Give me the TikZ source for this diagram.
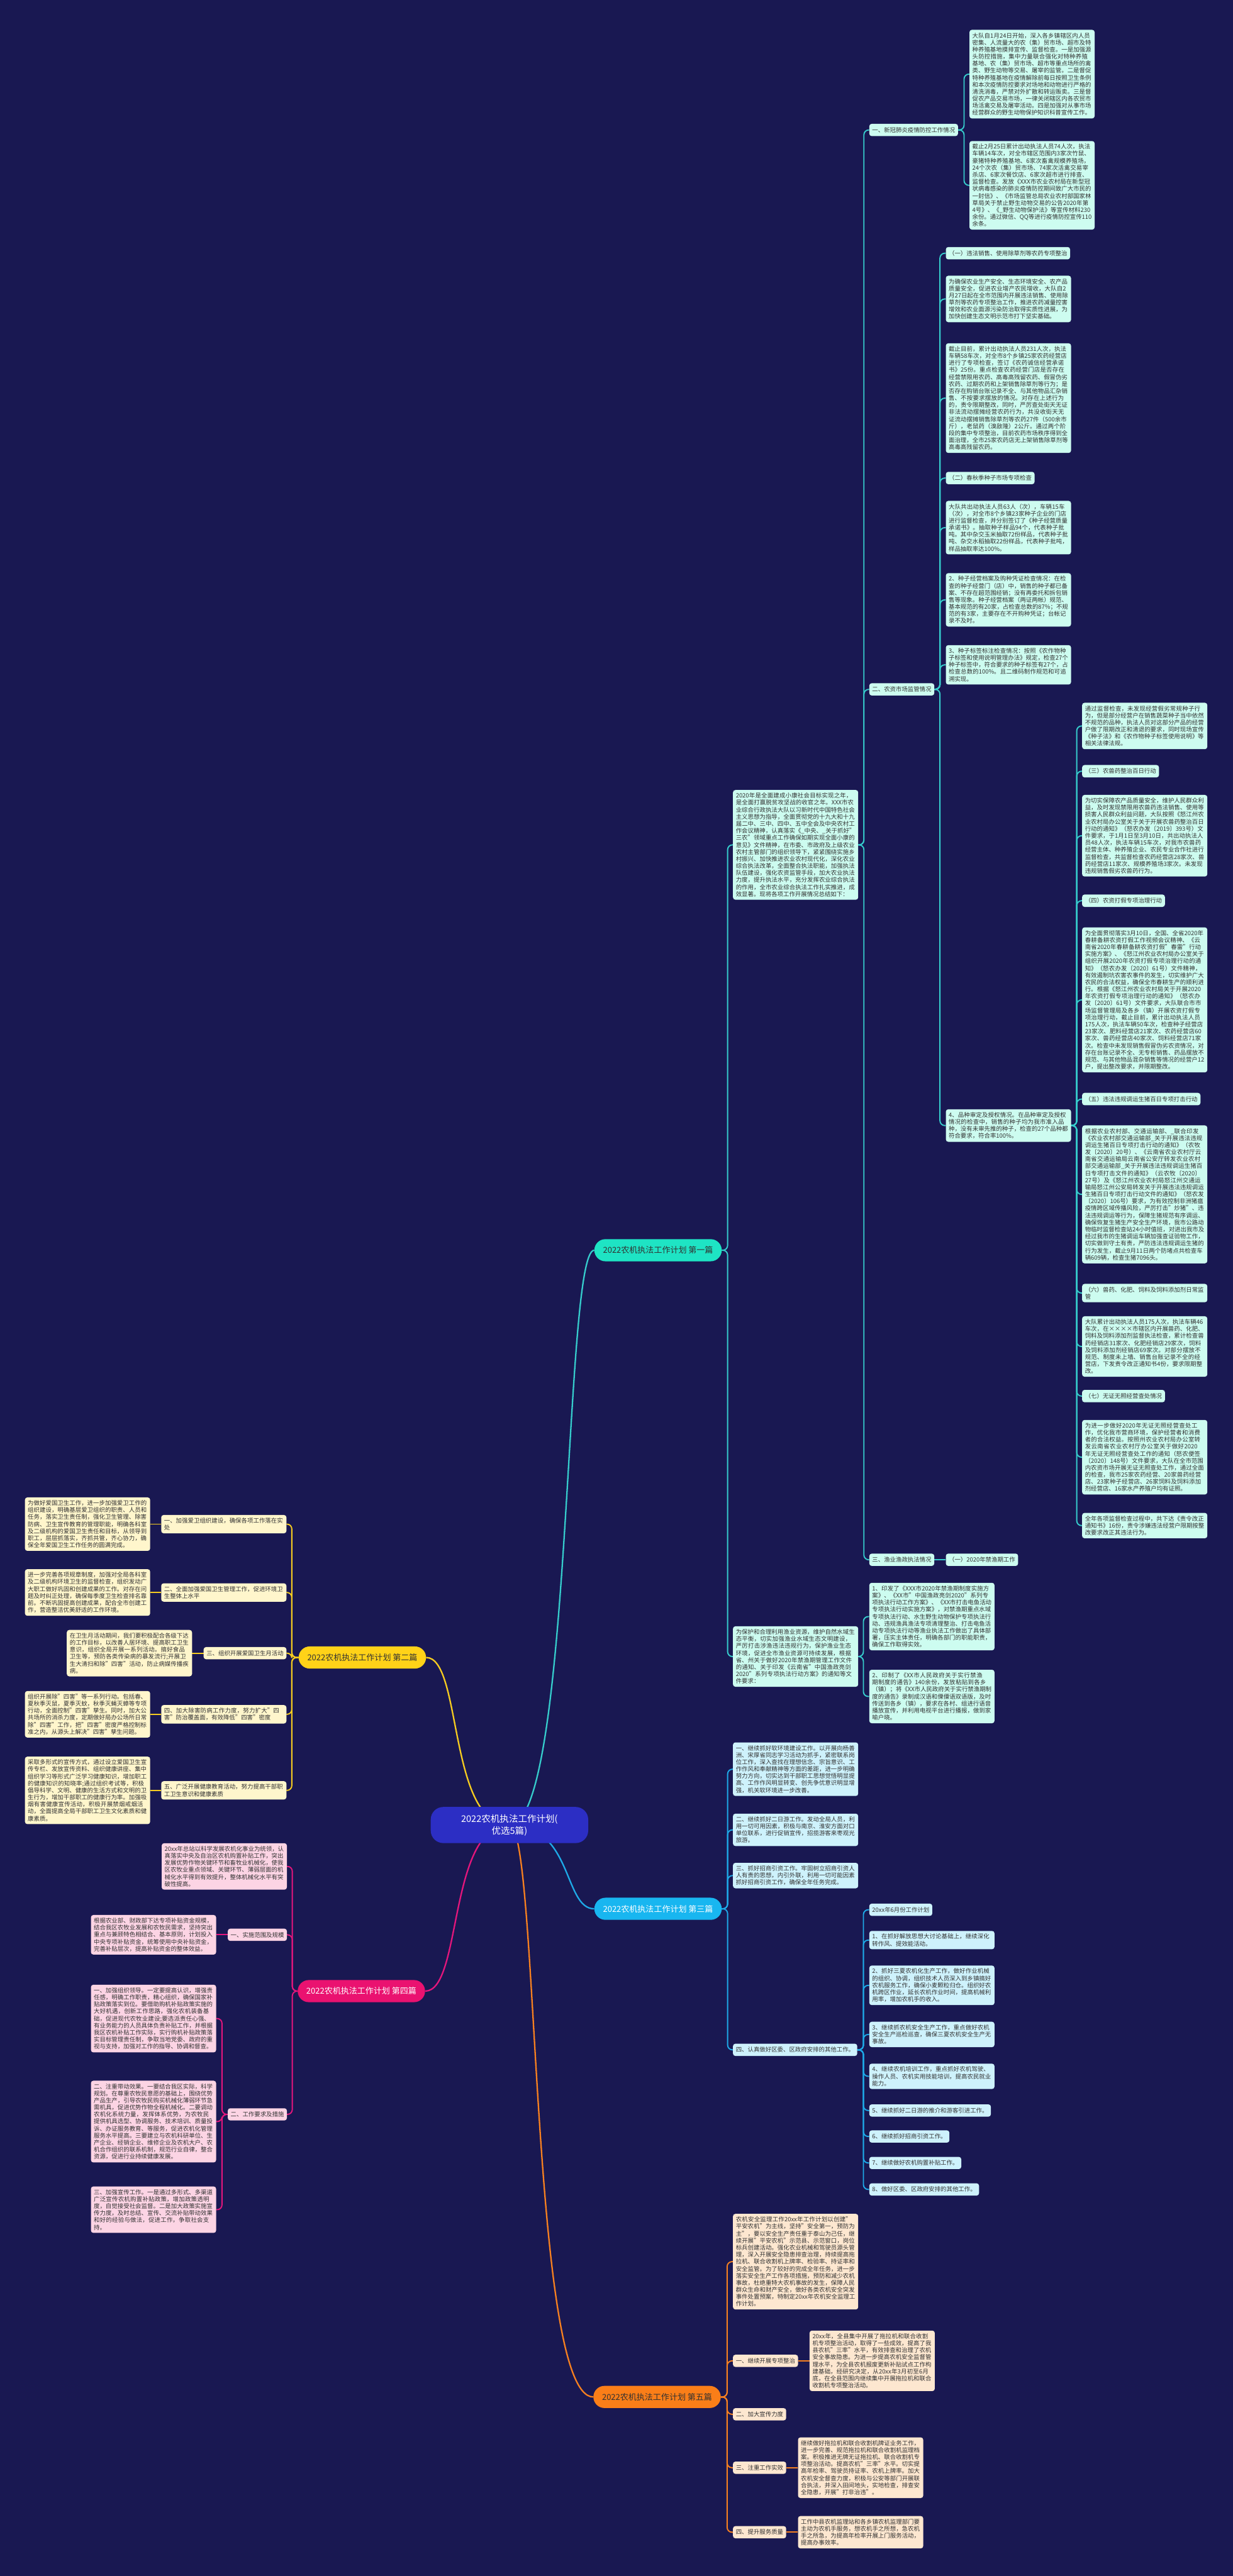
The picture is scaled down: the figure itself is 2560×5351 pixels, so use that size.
\documentclass[tikz,border=0pt]{standalone}
\usepackage{fontspec}
\setmainfont{Noto Sans CJK SC}
\XeTeXlinebreaklocale "zh"
\XeTeXlinebreakskip = 0pt plus 1pt
\usetikzlibrary{backgrounds}

\definecolor{bgnavy}{RGB}{25,24,82}
\definecolor{inkgray}{RGB}{50,50,50}
\definecolor{rootblue}{RGB}{44,46,196}
\definecolor{tealink}{RGB}{54,204,204}
\definecolor{tealpaper}{RGB}{205,252,240}
\definecolor{tealhead}{RGB}{30,228,196}
\definecolor{blueink}{RGB}{30,170,232}
\definecolor{bluepaper}{RGB}{206,242,252}
\definecolor{bluehead}{RGB}{24,182,240}
\definecolor{goldink}{RGB}{246,204,32}
\definecolor{goldpaper}{RGB}{255,246,204}
\definecolor{goldhead}{RGB}{255,210,24}
\definecolor{pinkink}{RGB}{228,22,124}
\definecolor{pinkpaper}{RGB}{252,212,228}
\definecolor{pinkhead}{RGB}{234,18,112}
\definecolor{orangeink}{RGB}{246,128,32}
\definecolor{orangepaper}{RGB}{253,231,208}
\definecolor{orangehead}{RGB}{250,126,24}

\tikzset{leaf/.style = {rectangle, rounded corners=5pt, inner xsep=6pt, inner ysep=6pt, text width=248pt, align=left, text=inkgray, font=\fontsize{12.3}{14.6}\selectfont}}
\tikzset{tag/.style = {rectangle, rounded corners=5pt, inner xsep=6pt, inner ysep=7pt, text=inkgray, font=\fontsize{12.3}{14.6}\selectfont}}
\tikzset{branch/.style = {rectangle, rounded corners=23pt, minimum height=46pt, inner xsep=18pt, font=\fontsize{17}{20}\selectfont}}
\tikzset{rootbox/.style = {rectangle, rounded corners=26pt, fill=rootblue, text=white, minimum width=327pt, minimum height=75pt, align=center, font=\fontsize{19}{25}\selectfont}}
\tikzset{tealbox/.style = {leaf, fill=tealpaper}, tealtag/.style = {tag, fill=tealpaper}}
\tikzset{bluebox/.style = {leaf, fill=bluepaper}, bluetag/.style = {tag, fill=bluepaper}}
\tikzset{goldbox/.style = {leaf, fill=goldpaper}, goldtag/.style = {tag, fill=goldpaper}}
\tikzset{pinkbox/.style = {leaf, fill=pinkpaper}, pinktag/.style = {tag, fill=pinkpaper}}
\tikzset{orangebox/.style = {leaf, fill=orangepaper}, orangetag/.style = {tag, fill=orangepaper}}
\tikzset{tealarm/.style = {draw=tealink, line width=2.5pt, rounded corners=10pt}}
\tikzset{bluearm/.style = {draw=blueink, line width=2.5pt, rounded corners=10pt}}
\tikzset{goldarm/.style = {draw=goldink, line width=2.5pt, rounded corners=10pt}}
\tikzset{pinkarm/.style = {draw=pinkink, line width=2.5pt, rounded corners=10pt}}
\tikzset{orangearm/.style = {draw=orangeink, line width=2.5pt, rounded corners=10pt}}

\begin{document}
\begin{tikzpicture}[x=1pt, y=-1pt]
	\useasboundingbox (0,0) rectangle (2560,5351);

	% centre
	\node (root) [rootbox] at (1058,3791) {2022农机执法工作计划(\\优选5篇)};

	% first part
	\node (b1) [branch, fill=tealhead, text=inkgray, anchor=east] at (1499,2597) {2022农机执法工作计划 第一篇};
	\node (intro) [tealbox, anchor=west] at (1522,1755) {2020年是全面建成小康社会目标实现之年，是全面打赢脱贫攻坚战的收官之年。XXX市农业综合行政执法大队以习新时代中国特色社会主义思想为指导，全面贯彻党的十九大和十九届二中、三中、四中、五中全会及中央农村工作会议精神，认真落实《\_中央、\_关于抓好"三农"领域重点工作确保如期实现全面小康的意见》文件精神，在市委、市政府及上级农业农村主管部门的组织领导下，紧紧围绕实施乡村振兴、加快推进农业农村现代化，深化农业综合执法改革，全面整合执法职能，加强执法队伍建设，强化农资监管手段，加大农业执法力度，提升执法水平，充分发挥农业综合执法的作用，全市农业综合执法工作扎实推进，成效显著。现将各项工作开展情况总结如下：};
	\node (s1) [tealtag, anchor=west] at (1805,270) {一、新冠肺炎疫情防控工作情况};
	\node (a1) [tealbox, anchor=west] at (2013,154) {大队自1月24日开始，深入各乡镇辖区内人员密集、人流量大的农（集）贸市场、超市及特种养殖基地摸排宣传、监督检查。一是加强源头防控措施，集中力量联合强化对特种养殖基地、农（集）贸市场、超市等重点场所的禽类、野生动物等交易、屠宰的监管。二是督促特种养殖基地在疫情解除前每日按照卫生条例和本次疫情防控要求对场地和动物进行严格的清洗消毒，严禁对外扩散和转运贩卖。三是督促农产品交易市场，一律关闭辖区内各农贸市场活禽交易及屠宰活动。四是加强对从事市场经营群众的野生动物保护知识科普宣传工作。};
	\node (a2) [tealbox, anchor=west] at (2013,385) {截止2月25日累计出动执法人员74人次，执法车辆14车次，对全市辖区范围内3家次竹鼠、豪猪特种养殖基地、6家次畜禽规模养殖场，24个次农（集）贸市场、74家次活禽交易宰杀店、6家次餐饮店、6家次超市进行排查、监督检查。发放《XXX市农业农村局在新型冠状病毒感染的肺炎疫情防控期间致广大市民的一封信》、《市场监管总局农业农村部国家林草局关于禁止野生动物交易的公告2020年第4号》、《\_野生动物保护法》等宣传材料230余份。通过微信、QQ等进行疫情防控宣传110余条。};
	\node (s2) [tealtag, anchor=west] at (1805,1432) {二、农资市场监管情况};
	\node (t1) [tealtag, anchor=west] at (1964,526) {（一）违法销售、使用除草剂等农药专项整治};
	\node (p1) [tealbox, anchor=west] at (1964,621) {为确保农业生产安全、生态环境安全、农产品质量安全，促进农业增产农民增收，大队自2月27日起在全市范围内开展违法销售、使用除草剂等农药专项整治工作，推进农药减量控害增效和农业面源污染防治取得实质性进展，为加快创建生态文明示范市打下坚实基础。};
	\node (p2) [tealbox, anchor=west] at (1964,827) {截止目前，累计出动执法人员231人次，执法车辆58车次，对全市8个乡镇25家农药经营店进行了专项检查，签订《农药诚信经营承诺书》25份。重点检查农药经营门店是否存在经营禁限用农药、高毒高残留农药、假冒伪劣农药、过期农药和上架销售除草剂等行为；是否存在购销台账记录不全、与其他物品汇杂销售、不按要求摆放的情况。对存在上述行为的，责令限期整改，同时，严厉查处街天无证非法流动摆摊经营农药行为，共没收街天无证流动摆摊销售除草剂等农药27件（500余市斤），老鼠药（溴敌隆）2公斤。通过两个阶段的集中专项整治，目前农药市场秩序得到全面治理，全市25家农药店无上架销售除草剂等高毒高残留农药。};
	\node (t2) [tealtag, anchor=west] at (1964,993) {（二）春秋季种子市场专项检查};
	\node (p3) [tealbox, anchor=west] at (1964,1096) {大队共出动执法人员63人（次），车辆15车（次），对全市8个乡镇23家种子企业的门店进行监督检查，并分别签订了《种子经营质量承诺书》。抽取种子样品94个，代表种子批吨。其中杂交玉米抽取72份样品，代表种子批吨、杂交水稻抽取22份样品，代表种子批吨，样品抽取率达100\%。};
	\node (p4) [tealbox, anchor=west] at (1964,1246) {2、种子经营档案及购种凭证检查情况：在检查的种子经营门（店）中，销售的种子都已备案、不存在超范围经销；没有再委托和拆包销售等现象。种子经营档案（两证两帐）规范、基本规范的有20家，占检查总数的87\%；不规范的有3家，主要存在不开购种凭证；台帐记录不及时。};
	\node (p5) [tealbox, anchor=west] at (1964,1381) {3、种子标签标注检查情况：按照《农作物种子标签和使用说明管理办法》规定，检查27个种子标签中，符合要求的种子标签有27个，占检查总数的100\%。且二维码制作规范和可追溯实现。};
	\node (p6) [tealbox, anchor=west] at (1964,2338) {4、品种审定及授权情况。在品种审定及授权情况的检查中，销售的种子均为我市准入品种，没有未审先推的种子，检查的27个品种都符合要求，符合率100\%。};
	\node (q1) [tealbox, anchor=west] at (2247,1508) {通过监督检查，未发现经营假劣常规种子行为，但是部分经营户在销售蔬菜种子当中依然不规范的品种，执法人员对这部分产品的经营户做了限期改正和清退的要求，同时现场宣传《种子法》和《农作物种子标签使用说明》等相关法律法规。};
	\node (t3) [tealtag, anchor=west] at (2247,1602) {（三）农兽药整治百日行动};
	\node (q2) [tealbox, anchor=west] at (2247,1736) {为切实保障农产品质量安全，维护人民群众利益，及时发现禁限用农兽药违法销售、使用等损害人民群众利益问题，大队按照《怒江州农业农村局办公室关于关于开展农兽药整治百日行动的通知》（怒农办发〔2019〕393号）文件要求，于1月1日至3月10日，共出动执法人员48人次，执法车辆15车次，对我市农兽药经营主体、种养殖企业、农民专业合作社进行监督检查，共监督检查农药经营店28家次、兽药经营店11家次、规模养殖场3家次。未发现违规销售假劣农兽药行为。};
	\node (t4) [tealtag, anchor=west] at (2247,1871) {（四）农资打假专项治理行动};
	\node (q3) [tealbox, anchor=west] at (2247,2077) {为全面贯彻落实3月10日，全国、全省2020年春耕备耕农资打假工作视频会议精神、《云南省2020年春耕备耕农资打假"春雷"行动实施方案》、《怒江州农业农村局办公室关于组织开展2020年农资打假专项治理行动的通知》（怒农办发〔2020〕61号）文件精神，有效遏制坑农害农事件的发生，切实维护广大农民的合法权益，确保全市春耕生产的顺利进行。根据《怒江州农业农村局关于开展2020年农资打假专项治理行动的通知》（怒农办发〔2020〕61号）文件要求，大队联合市市场监督管理局及各乡（镇）开展农资打假专项治理行动，截止目前，累计出动执法人员175人次，执法车辆50车次，检查种子经营店23家次、肥料经营店21家次、农药经营店60家次、兽药经营店40家次、饲料经营店71家次。检查中未发现销售假冒伪劣农资情况，对存在台账记录不全、无专柜销售、药品摆放不规范、与其他物品混杂销售等情况的经营户12户，提出整改要求，并限期整改。};
	\node (t5) [tealtag, anchor=west] at (2247,2283) {（五）违法违规调运生猪百日专项打击行动};
	\node (q4) [tealbox, anchor=west] at (2247,2481) {根据农业农村部、交通运输部、\_联合印发《农业农村部交通运输部\_关于开展违法违规调运生猪百日专项打击行动的通知》（农牧发〔2020〕20号）、《云南省农业农村厅云南省交通运输局云南省公安厅转发农业农村部交通运输部\_关于开展违法违规调运生猪百日专项打击文件的通知》（云农牧〔2020〕27号）及《怒江州农业农村局怒江州交通运输局怒江州公安局转发关于开展违法违规调运生猪百日专项打击行动文件的通知》（怒农发〔2020〕106号）要求，为有效控制非洲猪瘟疫情跨区域传播风险，严厉打击"炒猪"、违法违规调运等行为，保障生猪规范有序调运、确保恢复生猪生产安全生产环境，我市公路动物临时监督检查站24小时值班，对进出我市及经过我市的生猪调运车辆加强查证验物工作，切实做到守土有责，严防违法违规调运生猪的行为发生，截止9月11日两个防堵点共检查车辆609辆，检查生猪7096头。};
	\node (t6) [tealbox, anchor=west] at (2247,2686) {（六）兽药、化肥、饲料及饲料添加剂日常监管};
	\node (q5) [tealbox, anchor=west] at (2247,2797) {大队累计出动执法人员175人次，执法车辆46车次，在××××市辖区内开展兽药、化肥、饲料及饲料添加剂监督执法检查，累计检查兽药经销店31家次、化肥经销店29家次，饲料及饲料添加剂经销店69家次。对部分摆放不规范、制度未上墙、销售台账记录不全的经营店，下发责令改正通知书4份，要求限期整改。};
	\node (t7) [tealtag, anchor=west] at (2247,2900) {（七）无证无照经营查处情况};
	\node (q6) [tealbox, anchor=west] at (2247,3027) {为进一步做好2020年无证无照经营查处工作，优化我市营商环境，保护经营者和消费者的合法权益。按照州农业农村局办公室转发云南省农业农村厅办公室关于做好2020年无证无照经营查处工作的通知（怒农便签〔2020〕148号）文件要求，大队在全市范围内农资市场开展无证无照查处工作，通过全面的检查，我市25家农药经营、20家兽药经营店、23家种子经营店、26家饲料及饲料添加剂经营店、16家水产养殖户均有证照。};
	\node (q7) [tealbox, anchor=west] at (2247,3169) {全年各项监督检查过程中，共下达《责令改正通知书》16份，责令涉嫌违法经营户限期按整改要求改正其违法行为。};
	\node (s3) [tealtag, anchor=west] at (1805,3240) {三、渔业渔政执法情况};
	\node (t8) [tealtag, anchor=west] at (1964,3240) {（一）2020年禁渔期工作};
	\node (fish) [tealbox, anchor=west] at (1522,3441) {为保护和合理利用渔业资源，维护自然水域生态平衡，切实加强渔业水域生态文明建设，严厉打击涉渔违法违规行为，保护渔业生态环境，促进全市渔业资源可持续发展，根据省、州关于做好2020年禁渔期管理工作文件的通知、关于印发《云南省"中国渔政亮剑2020"系列专项执法行动方案》的通知等文件要求：};
	\node (d1) [tealbox, anchor=west] at (1805,3358) {1、印发了《XXX市2020年禁渔期制度实施方案》、《XX市"中国渔政亮剑2020"系列专项执法行动工作方案》、《XX市打击电鱼活动专项执法行动实施方案》，对禁渔期重点水域专项执法行动、水生野生动物保护专项执法行动、违规渔具渔法专项清理整治、打击电鱼活动专项执法行动等渔业执法工作做出了具体部署，压实主体责任，明确各部门的职能职责，确保工作取得实效。};
	\node (d2) [tealbox, anchor=west] at (1805,3524) {2、印制了《XX市人民政府关于实行禁渔期制度的通告》140余份，发放粘贴到各乡（镇）；将《XX市人民政府关于实行禁渔期制度的通告》录制成汉语和傈僳语双语版，及时传送到各乡（镇），要求在各村、组进行语音播放宣传，并利用电视平台进行播报，做到家喻户晓。};

	% second part
	\node (b2) [branch, fill=goldhead, text=inkgray, anchor=west] at (620,3443) {2022农机执法工作计划 第二篇};
	\node (y1) [goldbox, anchor=east] at (595,3166) {一、加强爱卫组织建设，确保各项工作落在实处};
	\node (l1) [goldbox, anchor=east] at (312,3166) {为做好爱国卫生工作，进一步加强爱卫工作的组织建设，明确基层爱卫组织的职责、人员和任务，落实卫生责任制，强化卫生管理、除害防病、卫生宣传教育的管理职能，明确各科室及二级机构的爱国卫生责任和目标，从领导到职工，层层抓落实，齐抓共管，齐心协力，确保全年爱国卫生工作任务的圆满完成。};
	\node (y2) [goldbox, anchor=east] at (595,3308) {二、全面加强爱国卫生管理工作，促进环境卫生整体上水平};
	\node (l2) [goldbox, anchor=east] at (312,3308) {进一步完善各项规章制度，加强对全局各科室及二级机构环境卫生的监督检查，组织发动广大职工做好巩固和创建成果的工作。对存在问题及时纠正处理，确保每季度卫生检查排名靠前。不断巩固提高创建成果，配合全市创建工作，营造整洁优美舒适的工作环境。};
	\node (y3) [goldtag, anchor=east] at (595,3434) {三、组织开展爱国卫生月活动};
	\node (l3) [goldbox, anchor=east] at (399,3434) {在卫生月活动期间，我们要积极配合各级下达的工作目标，以改善人居环境、提高职工卫生意识，组织全局开展一系列活动。搞好食品卫生等，预防各类传染病的暴发流行;开展卫生大清扫和除"四害"活动，防止病媒传播疾病。};
	\node (y4) [goldbox, anchor=east] at (595,3561) {四、加大除害防病工作力度，努力扩大"四害"防治覆盖面，有效降低"四害"密度};
	\node (l4) [goldbox, anchor=east] at (312,3561) {组织开展除"四害"等一系列行动。包括春、夏秋季灭鼠，夏季灭蚊，秋季灭蝇灭蟑等专项行动，全面控制"四害"孳生。同时，加大公共场所的消杀力度，定期做好局办公场所日常除"四害"工作，把"四害"密度严格控制标准之内，从源头上解决"四害"孳生问题。};
	\node (y5) [goldbox, anchor=east] at (595,3719) {五、广泛开展健康教育活动，努力提高干部职工卫生意识和健康素质};
	\node (l5) [goldbox, anchor=east] at (312,3719) {采取多形式的宣传方式，通过设立爱国卫生宣传专栏、发放宣传资料、组织健康讲座、集中组织学习等形式广泛学习健康知识，增加职工的健康知识的知晓率;通过组织考试等，积极倡导科学、文明、健康的生活方式和文明的卫生行为，增加干部职工的健康行为率。加强吸烟有害健康宣传活动，积极开展禁烟戒烟活动，全面提高全局干部职工卫生文化素质和健康素质。};

	% third part
	\node (b3) [branch, fill=bluehead, text=white, anchor=east] at (1499,3965) {2022农机执法工作计划 第三篇};
	\node (e1) [bluebox, anchor=west] at (1522,3675) {一、继续抓好软环境建设工作。以开展向杨善洲、宋厚省同志学习活动为抓手，紧密联系岗位工作，深入查找在理想信念、宗旨意识、工作作风和奉献精神等方面的差距，进一步明确努力方向，切实达到干部职工思想觉悟明显提高、工作作风明显转变、创先争优意识明显增强，机关软环境进一步改善。};
	\node (e2) [bluebox, anchor=west] at (1522,3801) {二、继续抓好二日游工作。发动全局人员，利用一切可用因素，积极与南京、淮安方面对口单位联系，进行促销宣传，招揽游客来枣观光旅游。};
	\node (e3) [bluebox, anchor=west] at (1522,3896) {三、抓好招商引资工作。牢固树立招商引资人人有责的思想，内引外联，利用一切可能因素抓好招商引资工作，确保全年任务完成。};
	\node (e4) [bluetag, anchor=west] at (1522,4258) {四、认真做好区委、区政府安排的其他工作。};
	\node (f0) [bluetag, anchor=west] at (1805,3967) {20xx年6月份工作计划};
	\node (f1) [bluebox, anchor=west] at (1805,4030) {1、在抓好解放思想大讨论基础上，继续深化转作风、提效能活动。};
	\node (f2) [bluebox, anchor=west] at (1805,4124) {2、抓好三夏农机化生产工作，做好作业机械的组织、协调，组织技术人员深入到乡镇搞好农机服务工作，确保小麦颗粒归仓。组织好农机跨区作业，延长农机作业时间，提高机械利用率，增加农机手的收入。};
	\node (f3) [bluebox, anchor=west] at (1805,4226) {3、继续抓农机安全生产工作，重点做好农机安全生产巡检巡查，确保三夏农机安全生产无事故。};
	\node (f4) [bluebox, anchor=west] at (1805,4313) {4、继续农机培训工作，重点抓好农机驾驶、操作人员、农机实用技能培训，提高农民就业能力。};
	\node (f5) [bluetag, anchor=west] at (1805,4384) {5、继续抓好二日游的推介和游客引进工作。};
	\node (f6) [bluetag, anchor=west] at (1805,4438) {6、继续抓好招商引资工作。};
	\node (f7) [bluetag, anchor=west] at (1805,4493) {7、继续做好农机购置补贴工作。};
	\node (f8) [bluetag, anchor=west] at (1805,4548) {8、做好区委、区政府安排的其他工作。};

	% fourth part
	\node (b4) [branch, fill=pinkhead, text=white, anchor=west] at (618,4136) {2022农机执法工作计划 第四篇};
	\node (h0) [pinkbox, anchor=east] at (596,3877) {20xx年总站以科学发展农机化事业为统领，认真落实中央及自治区农机购置补贴工作，突出发展优势作物关键环节和畜牧业机械化，使我区农牧业重点领域、关键环节、薄弱层面的机械化水平得到有效提升，整体机械化水平有突破性提高。};
	\node (k1) [pinktag, anchor=east] at (596,4019) {一、实施范围及规模};
	\node (h1) [pinkbox, anchor=east] at (449,4019) {根据农业部、财政部下达专项补贴资金规模，结合我区农牧业发展和农牧民需求，坚持突出重点与兼顾特色相结合、基本原则，计划投入中央专项补贴资金，统筹使用中央补贴资金，完善补贴层次，提高补贴资金的整体效益。};
	\node (k2) [pinktag, anchor=east] at (596,4392) {二、工作要求及措施};
	\node (h2) [pinkbox, anchor=east] at (449,4193) {一、加强组织领导。一定要提高认识，增强责任感，明确工作职责，精心组织，确保国家补贴政策落实到位。要借助购机补贴政策实施的大好机遇，创新工作思路，强化农机装备基础，促进现代农牧业建设;要选派责任心强、有业务能力的人员具体负责补贴工作，并根据我区农机补贴工作实际，实行购机补贴政策落实目标管理责任制，争取当地党委、政府的重视与支持，加强对工作的指导、协调和督查。};
	\node (h3) [pinkbox, anchor=east] at (449,4407) {二、注重带动效果。一要结合我区实际，科学规划。在尊重农牧民意愿的基础上，围绕优势产品生产，引导农牧民购买机械化薄弱环节急需机具，促进优势作物全程机械化。二要调动农机化系统力量，发挥体系优势，为农牧民提供机具选型、协调服务、技术培训、质量投诉、办证服务教育、等服务，促进农机化管理服务水平提高。三要建立与农机科研单位、生产企业、经销企业、维修企业及农机大户、农机合作组织的联系机制，规范行业自律，整合资源，促进行业持续健康发展。};
	\node (h4) [pinkbox, anchor=east] at (449,4590) {三、加强宣传工作。一是通过多形式、多渠道广泛宣传农机购置补贴政策，增加政策透明度，自觉接受社会监督。二是加大政策实施宣传力度，及时总结、宣传、交流补贴带动效果和好的经验与做法，促进工作，争取社会支持。};

	% fifth part
	\node (b5) [branch, fill=orangehead, text=inkgray, anchor=east] at (1497,4979) {2022农机执法工作计划 第五篇};
	\node (g0) [orangebox, anchor=west] at (1522,4698) {农机安全监理工作20xx年工作计划以创建"平安农机"为主线，坚持"安全第一，预防为主"，要以安全生产责任重于泰山为己任，继续开展"平安农机"示范县、示范窗口，岗位标兵创建活动。强化农业机械和驾驶员源头管理，深入开展安全隐患排查治理，持续提高拖拉机、联合收割机上牌率、检验率、持证率和安全监管。为了较好的完成全年任务，进一步落实安全生产工作各项措施，预防和减少农机事故，杜绝重特大农机事故的发生，保障人民群众生命和财产安全，做好各类农机安全突发事件处置预案，特制定20xx年农机安全监理工作计划。};
	\node (o1) [orangetag, anchor=west] at (1522,4904) {一、继续开展专项整治};
	\node (g1) [orangebox, anchor=west] at (1681,4904) {20xx年，全县集中开展了拖拉机和联合收割机专项整治活动，取得了一些成效，提高了我县农机"三率"水平，有效排查和治理了农机安全事故隐患。为进一步提高农机安全监督管理水平，为全县农机报废更新补贴试点工作构建基础，经研究决定，从20xx年3月初至6月底，在全县范围内继续集中开展拖拉机和联合收割机专项整治活动。};
	\node (o2) [orangetag, anchor=west] at (1522,5015) {二、加大宣传力度};
	\node (o3) [orangetag, anchor=west] at (1522,5126) {三、注重工作实效};
	\node (g3) [orangebox, anchor=west] at (1657,5126) {继续做好拖拉机和联合收割机牌证业务工作，进一步完善、规范拖拉机和联合收割机监理档案。积极推进无牌无证拖拉机、联合收割机专项整治活动。提高农机"三率"水平。切实提高年检率、驾驶员持证率、农机上牌率。加大农机安全督查力度，积极与公安等部门开展联合执法，并深入田间地头，实地检查，排查安全隐患，开展"打非治违"。};
	\node (o4) [orangetag, anchor=west] at (1522,5260) {四、提升服务质量};
	\node (g4) [orangebox, anchor=west] at (1657,5260) {工作中县农机监理站和各乡镇农机监理部门要主动为农机手服务，想农机手之所想，急农机手之所急，为提高年检率开展上门服务活动，提高办事效率。};

	\begin{pgfonlayer}{background}
	\fill [bgnavy] (0,0) rectangle (2560,5351);

	% centre to parts
	\draw [tealarm, line width=3pt] (root.center) .. controls (1190,3791) and (1170,2597) .. (b1.west);
	\draw [goldarm, line width=3pt] (root.center) .. controls (930,3791) and (960,3443) .. (b2.east);
	\draw [bluearm, line width=3pt] (root.center) .. controls (1190,3791) and (1170,3965) .. (b3.west);
	\draw [pinkarm, line width=3pt] (root.center) .. controls (930,3791) and (960,4136) .. (b4.east);
	\draw [orangearm, line width=3pt] (root.center) .. controls (1120,3791) and (1100,4979) .. (b5.west);

	% first part
	\draw [tealarm] (b1.east) -| ([xshift=-11pt]intro.west) -- (intro.west);
	\draw [tealarm] (b1.east) -| ([xshift=-11pt]fish.west) -- (fish.west);
	\draw [tealarm] (intro.east) -| ([xshift=-11pt]s1.west) -- (s1.west);
	\draw [tealarm] (intro.east) -| ([xshift=-11pt]s2.west) -- (s2.west);
	\draw [tealarm] (intro.east) -| ([xshift=-11pt]s3.west) -- (s3.west);
	\draw [tealarm] (s1.east) -| ([xshift=-11pt]a1.west) -- (a1.west);
	\draw [tealarm] (s1.east) -| ([xshift=-11pt]a2.west) -- (a2.west);
	\draw [tealarm] (s2.east) -| ([xshift=-12pt]t1.west) -- (t1.west);
	\draw [tealarm] (s2.east) -| ([xshift=-12pt]p1.west) -- (p1.west);
	\draw [tealarm] (s2.east) -| ([xshift=-12pt]p2.west) -- (p2.west);
	\draw [tealarm] (s2.east) -| ([xshift=-12pt]t2.west) -- (t2.west);
	\draw [tealarm] (s2.east) -| ([xshift=-12pt]p3.west) -- (p3.west);
	\draw [tealarm] (s2.east) -| ([xshift=-12pt]p4.west) -- (p4.west);
	\draw [tealarm] (s2.east) -| ([xshift=-12pt]p5.west) -- (p5.west);
	\draw [tealarm] (s2.east) -| ([xshift=-12pt]p6.west) -- (p6.west);
	\draw [tealarm] (p6.east) -| ([xshift=-11pt]q1.west) -- (q1.west);
	\draw [tealarm] (p6.east) -| ([xshift=-11pt]t3.west) -- (t3.west);
	\draw [tealarm] (p6.east) -| ([xshift=-11pt]q2.west) -- (q2.west);
	\draw [tealarm] (p6.east) -| ([xshift=-11pt]t4.west) -- (t4.west);
	\draw [tealarm] (p6.east) -| ([xshift=-11pt]q3.west) -- (q3.west);
	\draw [tealarm] (p6.east) -| ([xshift=-11pt]t5.west) -- (t5.west);
	\draw [tealarm] (p6.east) -| ([xshift=-11pt]q4.west) -- (q4.west);
	\draw [tealarm] (p6.east) -| ([xshift=-11pt]t6.west) -- (t6.west);
	\draw [tealarm] (p6.east) -| ([xshift=-11pt]q5.west) -- (q5.west);
	\draw [tealarm] (p6.east) -| ([xshift=-11pt]t7.west) -- (t7.west);
	\draw [tealarm] (p6.east) -| ([xshift=-11pt]q6.west) -- (q6.west);
	\draw [tealarm] (p6.east) -| ([xshift=-11pt]q7.west) -- (q7.west);
	\draw [tealarm] (s3.east) -- (t8.west);
	\draw [tealarm] (fish.east) -| ([xshift=-12pt]d1.west) -- (d1.west);
	\draw [tealarm] (fish.east) -| ([xshift=-12pt]d2.west) -- (d2.west);

	% second part
	\draw [goldarm] (b2.west) -| ([xshift=11pt]y1.east) -- (y1.east);
	\draw [goldarm] (b2.west) -| ([xshift=11pt]y2.east) -- (y2.east);
	\draw [goldarm] (b2.west) -| ([xshift=11pt]y3.east) -- (y3.east);
	\draw [goldarm] (b2.west) -| ([xshift=11pt]y4.east) -- (y4.east);
	\draw [goldarm] (b2.west) -| ([xshift=11pt]y5.east) -- (y5.east);
	\draw [goldarm] (y1.west) -- (l1.east);
	\draw [goldarm] (y2.west) -- (l2.east);
	\draw [goldarm] (y3.west) -- (l3.east);
	\draw [goldarm] (y4.west) -- (l4.east);
	\draw [goldarm] (y5.west) -- (l5.east);

	% third part
	\draw [bluearm] (b3.east) -| ([xshift=-11pt]e1.west) -- (e1.west);
	\draw [bluearm] (b3.east) -| ([xshift=-11pt]e2.west) -- (e2.west);
	\draw [bluearm] (b3.east) -| ([xshift=-11pt]e3.west) -- (e3.west);
	\draw [bluearm] (b3.east) -| ([xshift=-11pt]e4.west) -- (e4.west);
	\draw [bluearm] (e4.east) -| ([xshift=-12pt]f0.west) -- (f0.west);
	\draw [bluearm] (e4.east) -| ([xshift=-12pt]f1.west) -- (f1.west);
	\draw [bluearm] (e4.east) -| ([xshift=-12pt]f2.west) -- (f2.west);
	\draw [bluearm] (e4.east) -| ([xshift=-12pt]f3.west) -- (f3.west);
	\draw [bluearm] (e4.east) -| ([xshift=-12pt]f4.west) -- (f4.west);
	\draw [bluearm] (e4.east) -| ([xshift=-12pt]f5.west) -- (f5.west);
	\draw [bluearm] (e4.east) -| ([xshift=-12pt]f6.west) -- (f6.west);
	\draw [bluearm] (e4.east) -| ([xshift=-12pt]f7.west) -- (f7.west);
	\draw [bluearm] (e4.east) -| ([xshift=-12pt]f8.west) -- (f8.west);

	% fourth part
	\draw [pinkarm] (b4.west) -| ([xshift=11pt]h0.east) -- (h0.east);
	\draw [pinkarm] (b4.west) -| ([xshift=11pt]k1.east) -- (k1.east);
	\draw [pinkarm] (b4.west) -| ([xshift=11pt]k2.east) -- (k2.east);
	\draw [pinkarm] (k1.west) -- (h1.east);
	\draw [pinkarm] (k2.west) -| ([xshift=12pt]h2.east) -- (h2.east);
	\draw [pinkarm] (k2.west) -| ([xshift=12pt]h3.east) -- (h3.east);
	\draw [pinkarm] (k2.west) -| ([xshift=12pt]h4.east) -- (h4.east);

	% fifth part
	\draw [orangearm] (b5.east) -| ([xshift=-12pt]g0.west) -- (g0.west);
	\draw [orangearm] (b5.east) -| ([xshift=-12pt]o1.west) -- (o1.west);
	\draw [orangearm] (b5.east) -| ([xshift=-12pt]o2.west) -- (o2.west);
	\draw [orangearm] (b5.east) -| ([xshift=-12pt]o3.west) -- (o3.west);
	\draw [orangearm] (b5.east) -| ([xshift=-12pt]o4.west) -- (o4.west);
	\draw [orangearm] (o1.east) -- (g1.west);
	\draw [orangearm] (o3.east) -- (g3.west);
	\draw [orangearm] (o4.east) -- (g4.west);
	\end{pgfonlayer}
\end{tikzpicture}
\end{document}
